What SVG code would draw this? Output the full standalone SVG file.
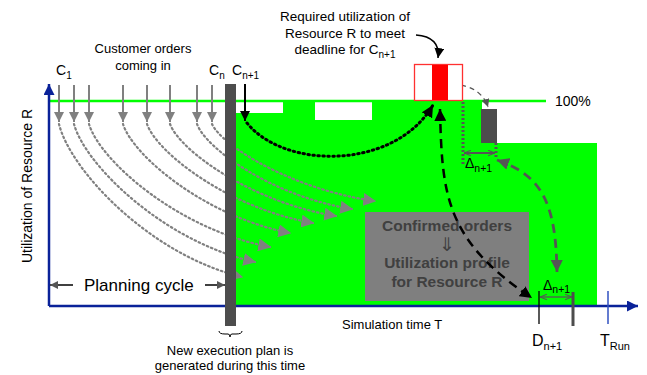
<svg xmlns="http://www.w3.org/2000/svg" width="647" height="375" viewBox="0 0 647 375">
  <style>
    text { font-family: "Liberation Sans", Arial, sans-serif; fill: #000; }
    .lbl { font-size: 13px; }
    .mid { text-anchor: middle; }
    .sub { font-size: 10px; }
    .order { stroke: #808080; stroke-width: 2; fill: none; }
    .trail { stroke: #808080; stroke-width: 2.2; fill: none; stroke-dasharray: 1.5 3; stroke-linecap: round; }
    .axis { stroke: #0a2299; stroke-width: 2.5; fill: none; }
    .boxtxt { font-size: 15.5px; font-weight: bold; fill: #404040; text-anchor: middle; }
  </style>
  <defs>
    <marker id="grayHead" viewBox="0 0 10 10" refX="10" refY="5" markerWidth="10" markerHeight="10" markerUnits="userSpaceOnUse" orient="auto">
      <path d="M0,0 L10,5 L0,10 Z" fill="#808080"/>
    </marker>
    <marker id="trailHead" viewBox="0 0 10 10" refX="9" refY="5" markerWidth="13" markerHeight="13" markerUnits="userSpaceOnUse" orient="auto">
      <path d="M0,0 L10,5 L0,10 Z" fill="#808080"/>
    </marker>
    <marker id="blackHead" viewBox="0 0 10 10" refX="10" refY="5" markerWidth="10" markerHeight="10" markerUnits="userSpaceOnUse" orient="auto">
      <path d="M0,0 L10,5 L0,10 Z" fill="#000"/>
    </marker>
    <marker id="blackHeadStart" viewBox="0 0 10 10" refX="0" refY="5" markerWidth="12" markerHeight="12" markerUnits="userSpaceOnUse" orient="auto">
      <path d="M10,0 L0,5 L10,10 Z" fill="#000"/>
    </marker>
    <marker id="blackHeadBig" viewBox="0 0 10 10" refX="10" refY="5" markerWidth="12" markerHeight="12" markerUnits="userSpaceOnUse" orient="auto">
      <path d="M0,0 L10,5 L0,10 Z" fill="#000"/>
    </marker>
    <marker id="darkHead" viewBox="0 0 10 10" refX="10" refY="5" markerWidth="12" markerHeight="12" markerUnits="userSpaceOnUse" orient="auto">
      <path d="M0,0 L10,5 L0,10 Z" fill="#555"/>
    </marker>
    <marker id="darkHeadStart" viewBox="0 0 10 10" refX="0" refY="5" markerWidth="12" markerHeight="12" markerUnits="userSpaceOnUse" orient="auto">
      <path d="M10,0 L0,5 L10,10 Z" fill="#555"/>
    </marker>
    <marker id="smallHead" viewBox="0 0 10 10" refX="10" refY="5" markerWidth="8" markerHeight="8" markerUnits="userSpaceOnUse" orient="auto">
      <path d="M0,0 L10,5 L0,10 Z" fill="#555"/>
    </marker>
    <marker id="openHead" viewBox="0 0 10 10" refX="10" refY="5" markerWidth="7" markerHeight="7" markerUnits="userSpaceOnUse" orient="auto-start-reverse">
      <path d="M0,1 L10,5 L0,9" fill="none" stroke="#555" stroke-width="1.6"/>
    </marker>
    <marker id="blueHead" viewBox="0 0 10 10" refX="10" refY="5" markerWidth="11" markerHeight="11" markerUnits="userSpaceOnUse" orient="auto">
      <path d="M0,0 L10,5 L0,10 Z" fill="#0a2299"/>
    </marker>
  </defs>

  <!-- utilised capacity after the planning point -->
  <g id="utilization-area">
    <path d="M236,113 H283 V102 H315 V120 H372 V102 H482 V143 H597 V306 H236 Z" fill="#00ff00"/>
    <line x1="49" y1="101" x2="546" y2="101" stroke="#00ff00" stroke-width="2.5"/>
    <text x="555" y="106" style="font-size:14px">100%</text>
  </g>

  <!-- axes -->
  <g id="axes">
    <line class="axis" x1="49" y1="306" x2="49" y2="84" marker-end="url(#blueHead)"/>
    <line class="axis" x1="49" y1="306" x2="638" y2="306" marker-end="url(#blueHead)"/>
    <text class="mid" transform="translate(32,186) rotate(-90)" style="font-size:14px">Utilization of Resource R</text>
    <text class="lbl" x="342" y="329">Simulation time T</text>
    <line x1="608" y1="291" x2="608" y2="324" stroke="#3050c0" stroke-width="1.5"/>
    <text x="600" y="346" style="font-size:16px">T<tspan class="sub" dy="4" style="font-size:11px">Run</tspan></text>
    <line x1="539" y1="291" x2="539" y2="324" stroke="#000" stroke-width="1.3"/>
    <line x1="573" y1="292" x2="573" y2="326" stroke="#4d4d4d" stroke-width="3"/>
    <text x="532" y="346" style="font-size:16px">D<tspan dy="4" style="font-size:11px">n+1</tspan></text>
  </g>

  <!-- confirmed orders box -->
  <g id="confirmed-orders">
    <rect x="365" y="212" width="164" height="89" fill="#7f7f7f"/>
    <text class="boxtxt" x="447" y="231">Confirmed orders</text>
    <text class="boxtxt" x="447" y="251" style="font-weight:normal;font-size:19px;font-family:'DejaVu Sans',sans-serif">⇓</text>
    <text class="boxtxt" x="447" y="268">Utilization profile</text>
    <text class="boxtxt" x="447" y="287">for Resource R</text>
  </g>

  <!-- connectors -->
  <g id="connectors">
    <!-- incoming customer orders -->
    <line class="order" x1="59" y1="85" x2="59" y2="122" marker-end="url(#grayHead)"/>
    <line class="order" x1="74" y1="85" x2="74" y2="122" marker-end="url(#grayHead)"/>
    <line class="order" x1="89" y1="85" x2="89" y2="122" marker-end="url(#grayHead)"/>
    <line class="order" x1="123" y1="85" x2="123" y2="122" marker-end="url(#grayHead)"/>
    <line class="order" x1="147" y1="85" x2="147" y2="122" marker-end="url(#grayHead)"/>
    <line class="order" x1="170" y1="85" x2="170" y2="122" marker-end="url(#grayHead)"/>
    <line class="order" x1="197" y1="85" x2="197" y2="122" marker-end="url(#grayHead)"/>
    <line class="order" x1="212" y1="85" x2="212" y2="122" marker-end="url(#grayHead)"/>

    <!-- orders scheduled into the plan -->
    <path class="trail" d="M212,124 C222,146 293,190 375,201" marker-end="url(#trailHead)"/>
    <path class="trail" d="M197,124 C206,149 274,197 352,209" marker-end="url(#trailHead)"/>
    <path class="trail" d="M170,124 C180,151 253,203 336,216" marker-end="url(#trailHead)"/>
    <path class="trail" d="M147,124 C157,153 230,209 313,223" marker-end="url(#trailHead)"/>
    <path class="trail" d="M123,124 C133,156 206,217 290,233" marker-end="url(#trailHead)"/>
    <path class="trail" d="M89,124 C100,161 179,230 270,247" marker-end="url(#trailHead)"/>
    <path class="trail" d="M74,124 C85,165 164,242 255,262" marker-end="url(#trailHead)"/>
    <path class="trail" d="M59,124 C70,170 150,255 242,277" marker-end="url(#trailHead)"/>

    <!-- new order C n+1 -->
    <line x1="245" y1="84" x2="245" y2="121" stroke="#000" stroke-width="2" marker-end="url(#blackHead)"/>
    <path d="M247,123 C285,170 395,170 433,105" fill="none" stroke="#000" stroke-width="3" stroke-dasharray="1.5 3.5" stroke-linecap="round" marker-end="url(#blackHeadBig)"/>

    <!-- link between deadline and required utilization -->
    <path d="M440,109 C442,195 445,240 532,298" fill="none" stroke="#000" stroke-width="2.5" stroke-dasharray="9 6" marker-start="url(#blackHeadStart)" marker-end="url(#blackHeadBig)"/>

    <!-- shift of the overload -->
    <path d="M452,84 C470,85 483,92 488,107" fill="none" stroke="#555" stroke-width="1.3" stroke-dasharray="5 4" marker-end="url(#smallHead)"/>
    <path d="M497,160 C540,175 556,200 557,272" fill="none" stroke="#555" stroke-width="2.8" stroke-dasharray="9 6" marker-start="url(#darkHeadStart)" marker-end="url(#darkHead)"/>

    <!-- delay markers -->
    <line x1="463" y1="102" x2="463" y2="165" stroke="#555" stroke-width="3" stroke-dasharray="2 2"/>
    <line x1="496" y1="143" x2="496" y2="158" stroke="#555" stroke-width="3" stroke-dasharray="2 2"/>
    <line x1="464" y1="153" x2="495" y2="153" stroke="#555" stroke-width="2" marker-start="url(#openHead)" marker-end="url(#openHead)"/>
    <line x1="540" y1="297" x2="572" y2="297" stroke="#555" stroke-width="1.3" marker-start="url(#openHead)" marker-end="url(#openHead)"/>

    <!-- planning cycle -->
    <line x1="73" y1="285" x2="50" y2="285" stroke="#404040" stroke-width="2" marker-end="url(#smallHead)"/>
    <line x1="205" y1="285" x2="225" y2="285" stroke="#404040" stroke-width="2" marker-end="url(#smallHead)"/>

    <!-- pointer from the annotation -->
    <path d="M416,35 C432,36 440,44 438,58" fill="none" stroke="#000" stroke-width="1.5" marker-end="url(#blackHead)"/>
  </g>

  <!-- planning point: execution plan generation -->
  <g id="execution-bar">
    <rect x="225" y="84" width="11" height="242" fill="#4d4d4d"/>
    <path d="M219,331 Q219,334 225,334 L228,334 Q230,334 230,337 Q230,334 232,334 L236,334 Q242,334 242,331" fill="none" stroke="#000" stroke-width="1"/>
    <text class="lbl mid" x="230" y="355">New execution plan is</text>
    <text class="lbl mid" x="230" y="370">generated during this time</text>
  </g>

  <!-- overloaded slot and shifted order -->
  <g id="required-utilization">
    <rect x="414.5" y="64.5" width="48" height="36" fill="#fff" stroke="#ff3030" stroke-width="1.3"/>
    <rect x="432" y="65" width="16" height="35" fill="#ff0000"/>
    <text class="mid" x="345" y="21" style="font-size:13.5px">Required utilization of</text>
    <text class="mid" x="345" y="38" style="font-size:13.5px">Resource R to meet</text>
    <text class="mid" x="345" y="54" style="font-size:13.5px">deadline for C<tspan dy="4" style="font-size:10px">n+1</tspan></text>
  </g>

  <g id="shifted-order">
    <rect x="481" y="109" width="16" height="34" fill="#4d4d4d"/>
    <text x="465" y="168" style="font-size:14px">Δ<tspan dy="4" style="font-size:10.5px">n+1</tspan></text>
    <text x="543" y="290" style="font-size:14px">Δ<tspan dy="3" style="font-size:10.5px">n+1</tspan></text>
  </g>

  <!-- labels -->
  <g id="labels">
    <text class="lbl mid" x="143" y="53">Customer orders</text>
    <text class="lbl mid" x="143" y="70">coming in</text>
    <text x="56" y="75" style="font-size:14px">C<tspan dy="4" style="font-size:10px">1</tspan></text>
    <text x="209" y="75" style="font-size:14px">C<tspan dy="4" style="font-size:10px">n</tspan></text>
    <text x="232" y="75" style="font-size:14px">C<tspan dy="4" style="font-size:10px">n+1</tspan></text>
    <text x="84" y="291" style="font-size:17px">Planning cycle</text>
  </g>
</svg>
